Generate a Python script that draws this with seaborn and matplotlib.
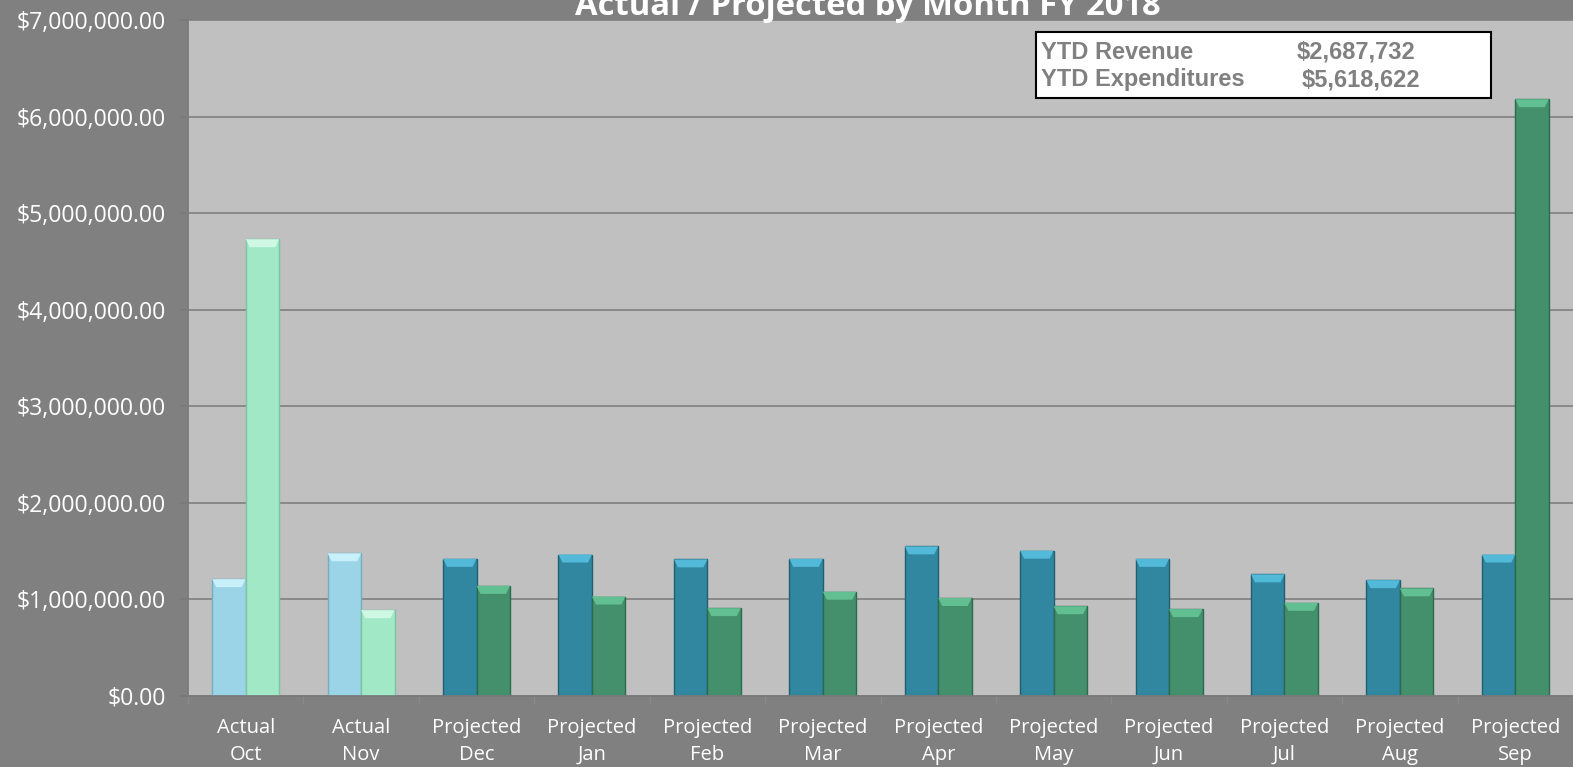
import matplotlib
matplotlib.use("Agg")
import matplotlib.pyplot as plt
import seaborn as sns
import pandas as pd
import numpy as np
from matplotlib.ticker import FuncFormatter, MultipleLocator
from matplotlib.patches import Polygon

status = ["Actual", "Actual"] + ["Projected"] * 10
months = ["Oct", "Nov", "Dec", "Jan", "Feb", "Mar", "Apr", "May", "Jun", "Jul", "Aug", "Sep"]
revenue = [1210000, 1478000, 1420000, 1465000, 1415000, 1420000, 1550000, 1505000, 1420000, 1260000, 1200000, 1465000]
expenditures = [4730000, 889000, 1140000, 1030000, 910000, 1080000, 1015000, 930000, 900000, 965000, 1115000, 6180000]
ytd_labels = ["YTD Revenue", "YTD Expenditures"]
ytd_values = ["$2,687,732", "$5,618,622"]
title = "Actual / Projected by Month FY 2018"

cats = [f"{s}\n{m}" for s, m in zip(status, months)]
df = pd.DataFrame({
    "cat": cats * 2,
    "series": ["Revenue"] * 12 + ["Expenditures"] * 12,
    "value": revenue + expenditures,
})

sns.set_theme(style="white")
plt.rcParams["font.family"] = ["Open Sans", "DejaVu Sans"]

W, H = 1573, 767
fig = plt.figure(figsize=(W / 100, H / 100), dpi=100, facecolor="#808080")
ax = fig.add_axes([188 / W, (H - 696) / H, (1573 - 188) / W, (696 - 20) / H])
ax.set_facecolor("#C0C0C0")

sns.barplot(data=df, x="cat", y="value", hue="series", ax=ax, width=0.58,
            palette=["#31849B", "#3F8F6B"], legend=False, saturation=1)

ax.set_ylim(0, 7000000)
ax.set_xlim(-0.5, 11.5)

actual_cols = {"Revenue": "#9BD4E6", "Expenditures": "#A0E8C6"}
proj_cols = {"Revenue": "#31879F", "Expenditures": "#448F6C"}
edge_proj = {"Revenue": "#1F5F70", "Expenditures": "#2C6A4E"}
edge_act = {"Revenue": "#74AFC0", "Expenditures": "#7CC4A2"}
hi_act = {"Revenue": "#C8F0FA", "Expenditures": "#CFF8E4"}
hi_proj = {"Revenue": "#52B9D9", "Expenditures": "#62BF92"}
# bevel size in data units (about 4 px wide, 8 px tall)
dx = 4 / 115.4
dy = 8 / 96.57 * 1e6
for cont, ser in zip(ax.containers, ["Revenue", "Expenditures"]):
    for i, bar in enumerate(cont):
        act = status[i] == "Actual"
        bar.set_facecolor(actual_cols[ser] if act else proj_cols[ser])
        bar.set_edgecolor(edge_act[ser] if act else edge_proj[ser])
        bar.set_linewidth(1.0)
        x0, w, h = bar.get_x(), bar.get_width(), bar.get_height()
        light = hi_act[ser] if act else hi_proj[ser]
        ax.add_patch(Polygon([[x0, h], [x0 + w, h], [x0 + w - dx, h - dy], [x0 + dx, h - dy]],
                             closed=True, facecolor=light, edgecolor="none", zorder=bar.get_zorder() + 0.1))

ax.yaxis.set_major_locator(MultipleLocator(1000000))
ax.yaxis.set_major_formatter(FuncFormatter(lambda v, p: f"${v:,.2f}"))
ax.grid(axis="y", color="#858585", linewidth=1.3)
ax.set_axisbelow(True)
ax.set_xlabel("")
ax.set_ylabel("")

for s in ["top", "right"]:
    ax.spines[s].set_visible(False)
ax.spines["left"].set_color("#7A7A7A")
ax.spines["bottom"].set_color("#7A7A7A")

ax.tick_params(axis="y", colors="white", labelsize=16.6, length=6, color="#7A7A7A", left=True, pad=10)
ax.tick_params(axis="x", colors="white", labelsize=14.5, length=0, pad=16)
for lab in ax.get_yticklabels() + ax.get_xticklabels():
    lab.set_color("white")
for lab in ax.get_xticklabels():
    lab.set_linespacing(1.45)
ax.set_xticks(np.arange(-0.5, 12, 1), minor=True)
ax.tick_params(axis="x", which="minor", length=6, color="#8A8A8A", bottom=True)

fig.text(868 / W, (H - 15) / H, title, ha="center", va="baseline", color="white",
         fontsize=23.6, fontweight="bold")

# YTD box
bx0, by0, bx1, by1 = 1036, 32, 1491, 98
fig.patches.append(plt.Rectangle((bx0 / W, (H - by1) / H), (bx1 - bx0) / W, (by1 - by0) / H,
                                 transform=fig.transFigure, facecolor="white",
                                 edgecolor="black", linewidth=1.5, zorder=5))
for j, (lab, val) in enumerate(zip(ytd_labels, ytd_values)):
    y = (H - (59 + 27 * j)) / H
    fig.text(1041 / W, y, lab, color="#808080", fontsize=17, fontweight="bold",
             family="Liberation Sans", va="baseline", zorder=6)
    fig.text((1297 + 5 * j) / W, y, val, color="#808080", fontsize=17, fontweight="bold",
             family="Liberation Sans", va="baseline", zorder=6)

fig.savefig("out.png", dpi=100, facecolor=fig.get_facecolor())
